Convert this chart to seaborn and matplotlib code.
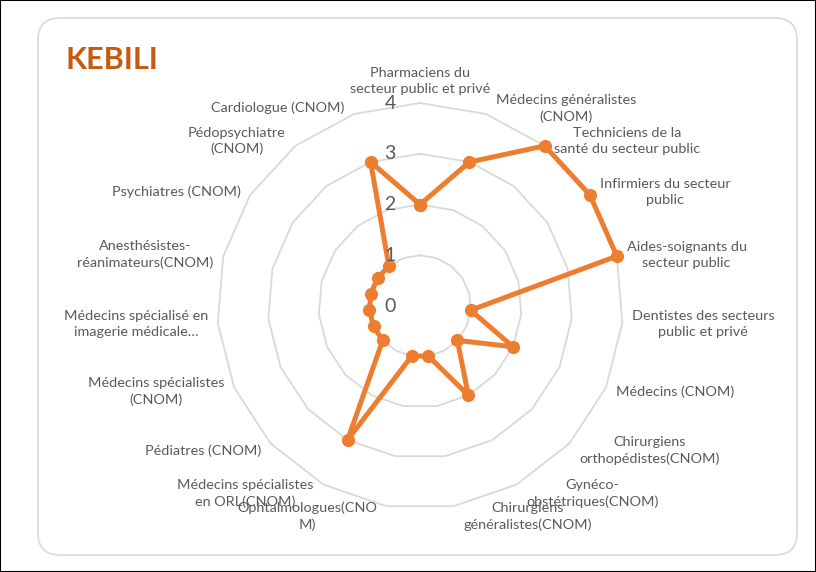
"""Radar chart of health staffing scores for the KEBILI governorate."""

import numpy as np
import matplotlib.pyplot as plt
import seaborn as sns
from matplotlib.patches import FancyBboxPatch, Rectangle

categories = [
    "Pharmaciens du\nsecteur public et privé",
    "Médecins généralistes\n(CNOM)",
    "Techniciens de la\nsanté du secteur public",
    "Infirmiers du secteur\npublic",
    "Aides-soignants du\nsecteur public",
    "Dentistes des secteurs\npublic et privé",
    "Médecins (CNOM)",
    "Chirurgiens\northopédistes(CNOM)",
    "Gynéco-\nobstétriques(CNOM)",
    "Chirurgiens\ngénéralistes(CNOM)",
    "Ophtalmologues(CNO\nM)",
    "Médecins spécialistes\nen ORL(CNOM)",
    "Pédiatres (CNOM)",
    "Médecins spécialistes\n(CNOM)",
    "Médecins spécialisé en\nimagerie médicale…",
    "Anesthésistes-\nréanimateurs(CNOM)",
    "Psychiatres (CNOM)",
    "Pédopsychiatre\n(CNOM)",
    "Cardiologue (CNOM)",
]
scores = [2, 3, 4, 4, 4, 1, 2, 1, 2, 1, 1, 3, 1, 1, 1, 1, 1, 1, 3]
ring_ticks = [0, 1, 2, 3, 4]
title = "KEBILI"

ORANGE = "#ED7D31"
GRID = "#D9D9D9"
TEXT = "#595959"

sns.set_style("white")
plt.rcParams["font.family"] = ["Lato", "DejaVu Sans"]

n = len(categories)
theta = np.linspace(0, 2 * np.pi, n, endpoint=False)
theta_closed = np.append(theta, theta[0] + 2 * np.pi)
scores_closed = scores + scores[:1]

fig = plt.figure(figsize=(8.16, 5.72), dpi=100)

# outer black frame and rounded chart area (kept behind the axes)
fig.add_artist(Rectangle((0, 0), 1, 1, transform=fig.transFigure, zorder=-10,
                         fill=False, edgecolor="black", linewidth=1.5))
fig.add_artist(FancyBboxPatch((0.38, 0.17), 7.59, 5.37,
                              boxstyle="round,pad=0,rounding_size=0.22",
                              transform=fig.dpi_scale_trans, zorder=-10,
                              facecolor="white", edgecolor=GRID, linewidth=1.2))

ax = fig.add_axes([0.266, 0.110, 0.4975, 0.710], polar=True)
ax.set_theta_zero_location("N")
ax.set_theta_direction(-1)
ax.set_ylim(0, 4)
ax.grid(False)
ax.set_xticks([])
ax.set_yticks([])
ax.spines["polar"].set_visible(False)
ax.patch.set_alpha(0)

# polygonal rings
for r in ring_ticks[1:]:
    ax.plot(theta_closed, [r] * (n + 1), color=GRID, linewidth=1.3, zorder=1)

sns.lineplot(x=theta_closed, y=scores_closed, ax=ax, sort=False, estimator=None,
             color=ORANGE, linewidth=3.6, marker="o", markersize=9.5,
             markeredgewidth=0, zorder=3)
for line in ax.lines:
    line.set_clip_on(False)
ax.set_xlabel("")
ax.set_ylabel("")

# radial value labels, left of the vertical axis
for v in ring_ticks:
    ax.annotate(str(v), xy=(0, v), xytext=(-21.5, 0), textcoords="offset points",
                ha="center", va="center", fontsize=14, color=TEXT, zorder=4)

# category labels
for t, label in zip(theta, categories):
    s, c = np.sin(t), np.cos(t)
    dy = 4.5 * c if c > 0 else 7.5 * c
    if abs(s) < 0.05:
        ha, va, off = "center", "bottom", (0, 6)
    elif s > 0:
        ha, va, off = "left", "center", (7, dy)
    else:
        ha, va, off = "right", "center", (-7, dy)
    ax.annotate(label, xy=(t, 4), xytext=off, textcoords="offset points",
                ha=ha, va=va, multialignment="center", fontsize=10.4,
                color=TEXT, linespacing=1.4, annotation_clip=False)

fig.text(65 / 816, 1 - 60 / 572, title, ha="left", va="center",
         fontsize=22, fontweight="bold", color="#C55A11")

fig.savefig("out.png", dpi=100)
